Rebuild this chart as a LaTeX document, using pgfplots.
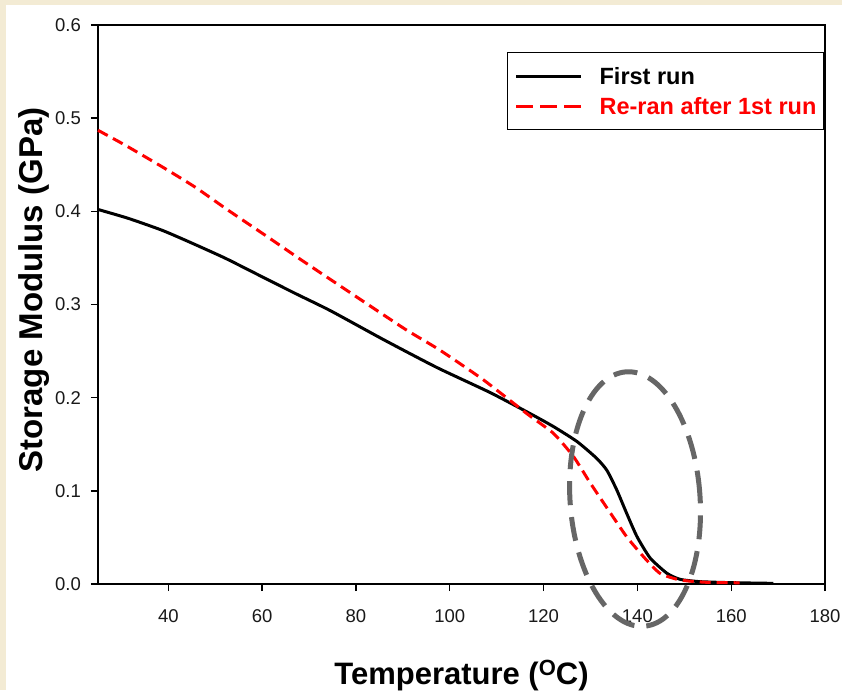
\documentclass[border=0pt]{standalone}
\usepackage{fontspec}
\setmainfont{Liberation Sans}
\usepackage{pgfplots}
\pgfplotsset{compat=1.18}
\definecolor{beige}{HTML}{F3EBD4}
\definecolor{ellgray}{HTML}{666666}
\definecolor{myred}{HTML}{FF0000}
\begin{document}
\begin{tikzpicture}
\useasboundingbox (0,0) rectangle (842pt,690pt);
\fill[beige] (0,0) rectangle (842pt,690pt);
\fill[white] (6pt,0) rectangle (842pt,685pt);
\begin{axis}[
  at={(98pt,106pt)}, anchor=south west,
  scale only axis, width=727pt, height=559pt,
  xmin=25, xmax=180, ymin=0, ymax=0.6,
  xtick={40,60,...,180},
  ytick={0,0.1,...,0.6},
  tick pos=left, tick align=outside,
  major tick length=7pt,
  tick style={line width=1.4pt, black},
  axis line style={line width=1.6pt, black},
  /pgf/number format/assume math mode=true,
  yticklabel style={/pgf/number format/fixed, /pgf/number format/fixed zerofill, /pgf/number format/precision=1},
  tick label style={font=\fontsize{18.5}{20}\selectfont, text=black!90},
  xticklabel style={inner sep=0pt, yshift=-18pt},
  yticklabel style={inner sep=0pt, xshift=-10pt},
  xlabel={Temperature (\raisebox{0.55ex}{\fontsize{22}{24}\selectfont O}C)},
  ylabel={Storage Modulus (GPa)},
  xlabel style={font=\fontsize{31}{34}\selectfont\bfseries, at={(axis description cs:0.5,-0.179)}, anchor=base},
  ylabel style={font=\fontsize{33}{36}\selectfont\bfseries, at={(axis description cs:-0.077,0.526)}, anchor=base},
  clip=false,
  legend cell align=left,
  legend image code/.code={\draw[#1] (0pt,0pt) -- (65pt,0pt);},
  legend style={at={(axis description cs:0.5626,0.9517)}, anchor=north west,
    draw=black, line width=1.2pt, fill=white,
    font=\fontsize{23.5}{26}\selectfont\bfseries,
    inner xsep=7pt, inner ysep=15pt, row sep=13pt, column sep=17pt,
    nodes={inner sep=0pt, text height=17pt, text depth=0pt}},
]
\addplot[black, line width=3pt, smooth, tension=0.35] coordinates {
(25,0.402) (31.5,0.3924) (38.6,0.3798) (44.3,0.3675) (52,0.350) (59.5,0.331)
(67,0.312) (74.5,0.2935) (85.8,0.2625) (97.2,0.2325) (108.6,0.2055) (117.1,0.183)
(122.1,0.169) (127.1,0.153) (131.3,0.135) (133.5,0.122) (135.6,0.101)
(137.7,0.076) (139.9,0.051) (142.7,0.028) (146.3,0.0115) (149.1,0.005)
(153.4,0.0025) (160.4,0.0014) (169,0.0007)};
\addlegendentry{First run}
\addplot[myred, line width=3pt, dash pattern=on 11pt off 6pt, smooth, tension=0.35,
  legend image post style={dash pattern=on 17pt off 7pt}] coordinates {
(25,0.487) (30.8,0.471) (38.6,0.448) (45.7,0.426) (52.8,0.401) (60.6,0.3745)
(68,0.349) (75.5,0.3237) (83,0.2985) (90.8,0.2725) (97.9,0.251) (107.2,0.219)
(116.4,0.183) (122.1,0.1617) (126.4,0.1366) (130,0.108) (134.3,0.0758)
(137.7,0.0508) (141.3,0.0293) (144.8,0.0115) (149.1,0.0043) (154.8,0.0018)
(161.8,0.0013)};
\addlegendentry{\textcolor{myred}{Re-ran after 1st run}}
\draw[ellgray, line width=5pt, dash pattern=on 24pt off 12pt]
  (axis cs:139.5,0.0912) ellipse [x radius=65pt, y radius=127.5pt, rotate=4];
\end{axis}
\end{tikzpicture}
\end{document}
